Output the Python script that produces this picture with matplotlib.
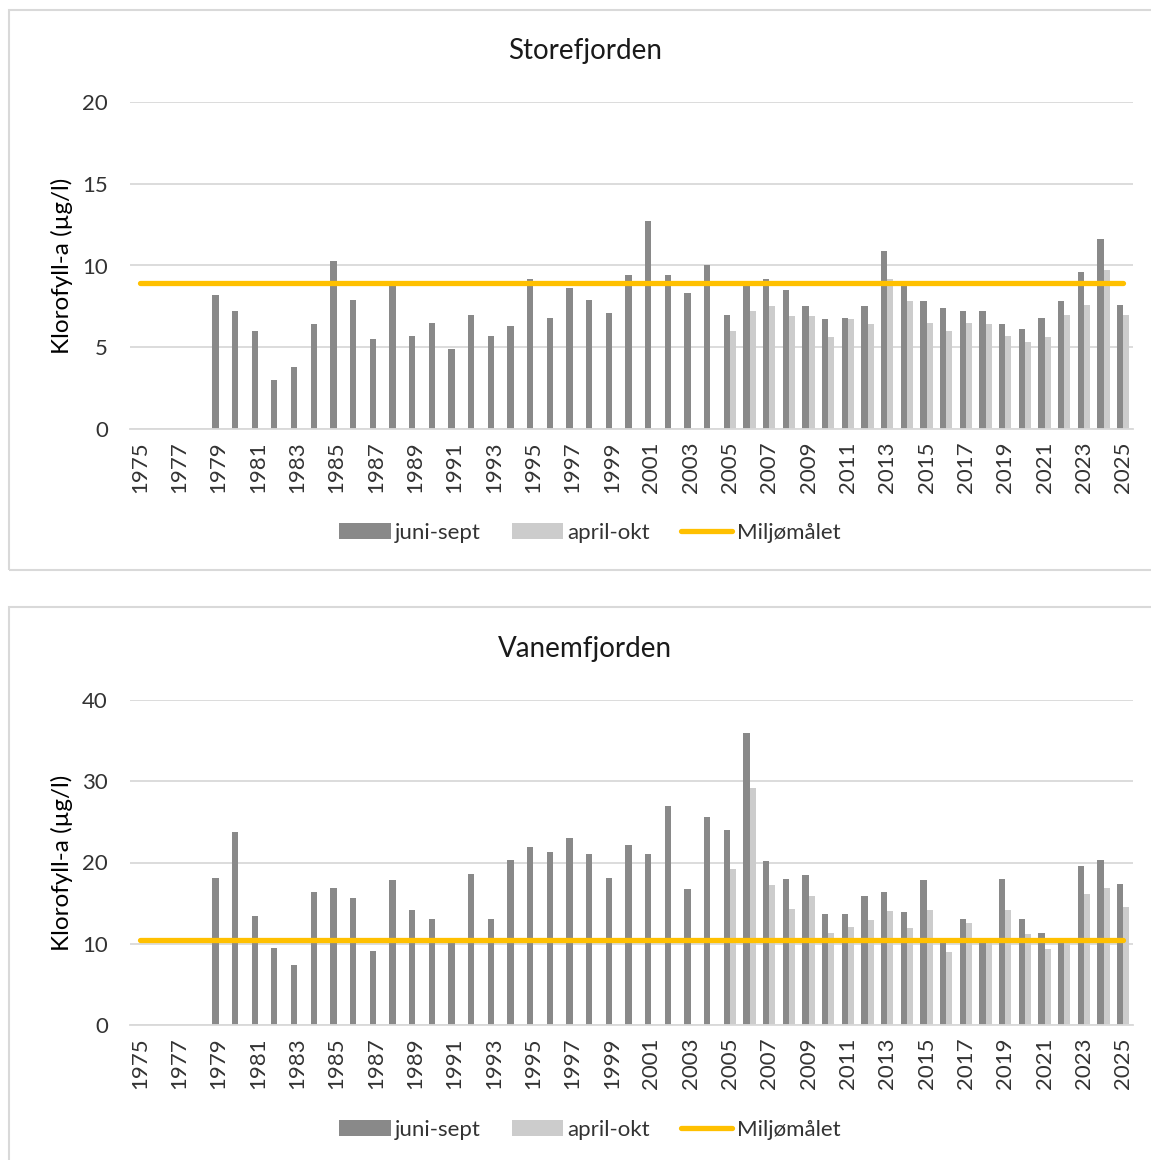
import numpy as np
import matplotlib.pyplot as plt
from matplotlib.patches import Rectangle

plt.rcParams['font.family'] = ['Lato', 'DejaVu Sans']

nan = np.nan
years = list(range(1975, 2026))

# Storefjorden
store_juni_sept = [nan, nan, nan, nan,
                   8.2, 7.2, 6.0, 3.0, 3.8, 6.4, 10.3, 7.9, 5.5, 8.9,
                   5.7, 6.5, 4.9, 7.0, 5.7, 6.3, 9.2, 6.8, 8.6, 7.9, 7.1, 9.4,
                   12.7, 9.4, 8.3, 10.0, 7.0, 8.9, 9.2, 8.5, 7.5, 6.7,
                   6.8, 7.5, 10.9, 8.9, 7.8, 7.4, 7.2, 7.2, 6.4, 6.1,
                   6.8, 7.8, 9.6, 11.6, 7.6]
store_april_okt = [nan] * 30 + [6.0, 7.2, 7.5, 6.9, 6.9, 5.6, 6.7, 6.4, 9.2, 7.8,
                                6.5, 6.0, 6.5, 6.4, 5.7, 5.3, 5.6, 7.0, 7.6, 9.7, 7.0]
store_maal = 8.9

# Vanemfjorden
vanem_juni_sept = [nan, nan, nan, nan,
                   18.1, 23.8, 13.4, 9.5, 7.4, 16.4, 16.9, 15.6, 9.1, 17.8,
                   14.2, 13.1, 10.4, 18.6, 13.1, 20.3, 21.9, 21.3, 23.0, 21.1, 18.1, 22.2,
                   21.0, 27.0, 16.7, 25.6, 24.0, 36.0, 20.2, 18.0, 18.5, 13.7,
                   13.7, 15.9, 16.4, 13.9, 17.8, 10.6, 13.1, 10.6, 18.0, 13.1,
                   11.3, 10.5, 19.6, 20.3, 17.3]
vanem_april_okt = [nan] * 30 + [19.2, 29.2, 17.2, 14.3, 15.9, 11.3, 12.1, 12.9, 14.0, 12.0,
                                14.2, 9.0, 12.6, 10.3, 14.2, 11.2, 9.3, 10.3, 16.1, 16.9, 14.5]
vanem_maal = 10.5

W, H = 1151, 1160
fig = plt.figure(figsize=(W / 100, H / 100), dpi=100)

# panel frames
fig.patches.append(Rectangle((9 / W, 1 - 570 / H), 1.2, 560 / H, transform=fig.transFigure,
                             fill=False, edgecolor='#d9d9d9', linewidth=1.5))
fig.patches.append(Rectangle((9 / W, -0.1), 1.2, 1 - 607 / H + 0.1, transform=fig.transFigure,
                             fill=False, edgecolor='#d9d9d9', linewidth=1.5))


def draw(ax, title, title_y, juni, april, maal, ymax, step, leg_y):
    x = np.arange(len(years))
    b1 = ax.bar(x - 0.155, juni, width=0.31, color='#898989', label='juni-sept')
    b2 = ax.bar(x + 0.155, april, width=0.31, color='#cccccc', label='april-okt')
    ln, = ax.plot([x[0], x[-1]], [maal, maal], color='#ffc000', linewidth=3.8,
                  solid_capstyle='round', label='Miljømålet')
    ax.set_xlim(-0.5, len(years) - 0.5)
    ax.set_ylim(0, ymax)
    ax.set_yticks(np.arange(0, ymax + 1, step))
    ax.set_xticks(x[::2])
    ax.set_xticklabels(years[::2], rotation=90)
    ax.grid(axis='y', color='#d9d9d9', linewidth=1.3)
    ax.set_axisbelow(True)
    for s in ['top', 'right', 'left']:
        ax.spines[s].set_visible(False)
    ax.spines['bottom'].set_color('#d9d9d9')
    ax.spines['bottom'].set_linewidth(1.3)
    ax.tick_params(axis='y', length=0, pad=16, labelsize=16, labelcolor='#333333')
    ax.tick_params(axis='x', length=0, pad=9, labelsize=16, labelcolor='#333333')
    ax.set_ylabel('Klorofyll-a (µg/l)', fontsize=17.5)
    ax.yaxis.set_label_coords(-0.057, 0.5)
    fig.text(585 / W, title_y, title, ha='center', va='center', fontsize=20, color='#1a1a1a')
    fig.legend(handles=[b1, b2, ln], loc='center', bbox_to_anchor=(590 / W, leg_y), ncol=3,
               frameon=False, fontsize=16, handlelength=2.3, handletextpad=0.2,
               columnspacing=1.4, labelcolor='#333333')


ax1 = fig.add_axes([130 / W, 1 - 429 / H, 1003 / W, 327 / H])
draw(ax1, 'Storefjorden', 1 - 51 / H, store_juni_sept, store_april_okt, store_maal, 20, 5, 1 - 533 / H)

ax2 = fig.add_axes([130 / W, 1 - 1025 / H, 1003 / W, 325 / H])
draw(ax2, 'Vanemfjorden', 1 - 649 / H, vanem_juni_sept, vanem_april_okt, vanem_maal, 40, 10, 1 - 1130 / H)

fig.savefig('out.png', dpi=100)
